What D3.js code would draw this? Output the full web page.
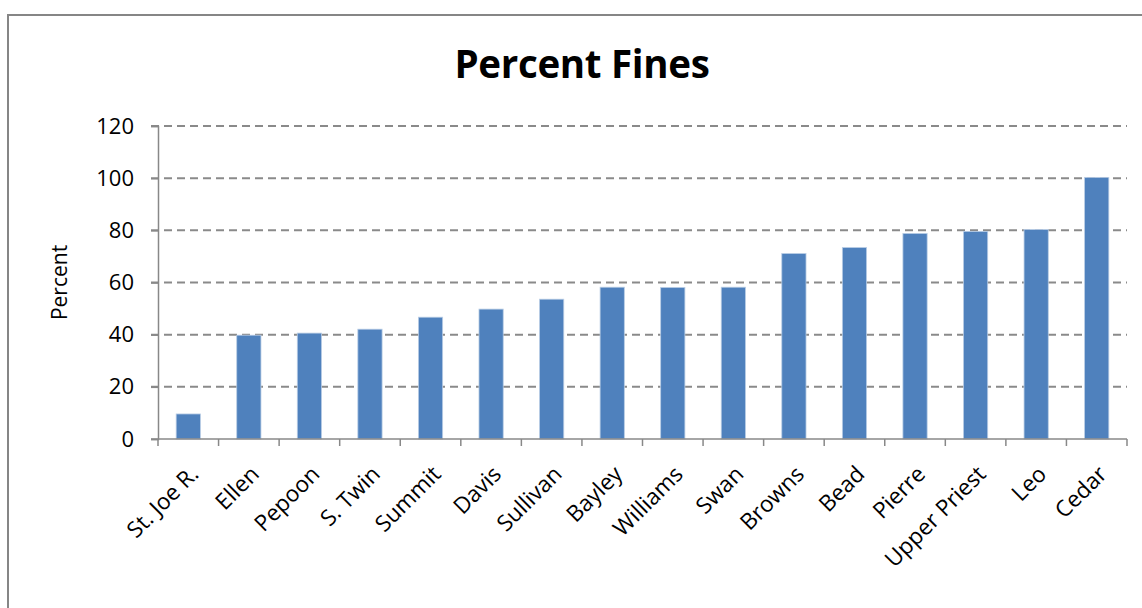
<!DOCTYPE html>
<html>
<head>
<meta charset="utf-8">
<script src="https://cdn.jsdelivr.net/npm/d3@7"></script>
<style>
  body { margin: 0; background: #fff; }
  text { font-family: "Open Sans", Lato, sans-serif; }
</style>
</head>
<body>
<div id="chart"></div>
<script>
// data
var lakes = ["St. Joe R.", "Ellen", "Pepoon", "S. Twin", "Summit", "Davis", "Sullivan", "Bayley",
  "Williams", "Swan", "Browns", "Bead", "Pierre", "Upper Priest", "Leo", "Cedar"];
var percentFines = [9.6, 39.8, 40.6, 42.1, 46.7, 49.8, 53.6, 58.2, 58.1, 58.2, 71.1, 73.4, 78.8, 79.6, 80.3, 100.3];
var yTicks = [0, 20, 40, 60, 80, 100, 120];

var W = 1142, H = 608;
var margin = {top: 126, right: 15, bottom: 169, left: 158},
  width = 1127 - margin.left,
  height = 439 - margin.top;

var svg = d3.select("#chart")
  .append("svg")
  .attr("width", W)
  .attr("height", H);

// chart border
svg.append("rect")
  .attr("x", 8)
  .attr("y", 15)
  .attr("width", W + 10)
  .attr("height", H + 10)
  .attr("fill", "none")
  .attr("stroke", "#868686")
  .attr("stroke-width", 2);

svg.append("text")
  .attr("x", 582)
  .attr("y", 78)
  .attr("text-anchor", "middle")
  .style("font-size", "38.5px")
  .style("font-weight", "bold")
  .style("letter-spacing", "-0.3px")
  .text("Percent Fines");

var g = svg.append("g")
  .attr("transform", "translate(" + margin.left + "," + margin.top + ")");

var x = d3.scaleBand()
  .domain(lakes)
  .range([0, width])
  .paddingInner(0.6)
  .paddingOuter(0.3);

var y = d3.scaleLinear()
  .domain([0, 120])
  .range([height, 0]);

// gridlines
g.append("g")
  .selectAll("line")
  .data(yTicks.slice(1))
  .join("line")
  .attr("x1", -7)
  .attr("x2", width)
  .attr("y1", d => y(d))
  .attr("y2", d => y(d))
  .attr("stroke", "#8a8a8a")
  .attr("stroke-width", 2)
  .attr("stroke-dasharray", "8,5");

// y axis
var yAxis = g.append("g")
  .call(d3.axisLeft(y).tickValues(yTicks).tickSize(7).tickPadding(17));
yAxis.select(".domain").attr("stroke", "#888").attr("stroke-width", 1.5);
yAxis.selectAll(".tick line").attr("stroke", "#888").attr("stroke-width", 1.5);
yAxis.selectAll(".tick text")
  .style("font-size", "22px")
  .attr("fill", "#000")
  .attr("font-family", "'Open Sans', sans-serif");

// bars
g.selectAll(".bar")
  .data(percentFines)
  .join("rect")
  .attr("class", "bar")
  .attr("x", (d, i) => x(lakes[i]))
  .attr("y", d => y(d))
  .attr("width", x.bandwidth())
  .attr("height", d => height - y(d))
  .attr("fill", "#4F81BD")
  .attr("stroke", "#B9CDE5")
  .attr("stroke-width", 0.8);

// x axis, ticks at category boundaries
var step = width / lakes.length;
var xb = g.append("g").attr("transform", "translate(0," + height + ")");
xb.append("line")
  .attr("x1", -7).attr("x2", width)
  .attr("stroke", "#888").attr("stroke-width", 1.5);
xb.selectAll(".bt")
  .data(d3.range(lakes.length + 1))
  .join("line")
  .attr("class", "bt")
  .attr("x1", d => d * step).attr("x2", d => d * step)
  .attr("y1", 0).attr("y2", 7)
  .attr("stroke", "#888").attr("stroke-width", 1.5);

xb.selectAll(".lbl")
  .data(lakes)
  .join("text")
  .attr("class", "lbl")
  .attr("text-anchor", "end")
  .attr("transform", d => "translate(" + (x(d) + x.bandwidth() / 2 + 6) + ",31) rotate(-45)")
  .attr("dy", "0.35em")
  .style("font-size", "22.5px")
  .text(d => d);

// y label
svg.append("text")
  .attr("transform", "translate(67," + (margin.top + height / 2) + ") rotate(-90)")
  .attr("text-anchor", "middle")
  .style("font-size", "21px")
  .text("Percent");
</script>
</body>
</html>
